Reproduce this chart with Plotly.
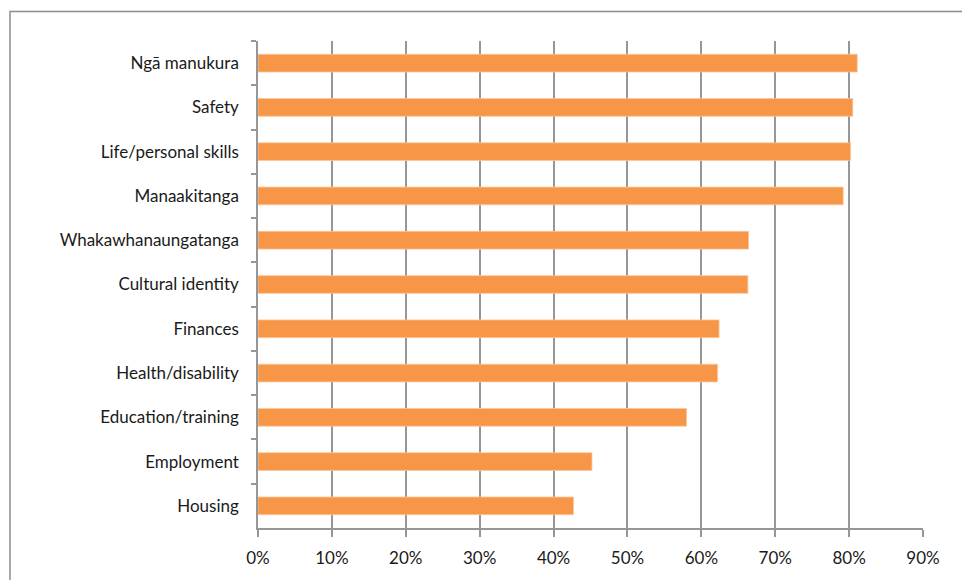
import plotly.graph_objects as go

categories = ["Ngā manukura", "Safety", "Life/personal skills", "Manaakitanga",
              "Whakawhanaungatanga", "Cultural identity", "Finances",
              "Health/disability", "Education/training", "Employment", "Housing"]
values = [0.811, 0.805, 0.802, 0.792, 0.664, 0.663, 0.624, 0.622, 0.580, 0.452, 0.427]
x_ticks = [0, 0.1, 0.2, 0.3, 0.4, 0.5, 0.6, 0.7, 0.8, 0.9]
x_tick_labels = ["0%", "10%", "20%", "30%", "40%", "50%", "60%", "70%", "80%", "90%"]

W, H = 962, 580
L, R, T, B = 258, 39, 41, 50
pw, ph = W - L - R, H - T - B

fig = go.Figure(go.Bar(
    x=values, y=categories, orientation="h",
    marker=dict(color="#F79646", line=dict(color="#FBC79E", width=0.8)),
    hoverinfo="x+y",
))

fig.update_layout(
    width=W, height=H,
    margin=dict(l=L, r=R, t=T, b=B, pad=0),
    paper_bgcolor="white", plot_bgcolor="white",
    bargap=0.6, showlegend=False,
    font=dict(family="Lato, Open Sans, sans-serif", size=17, color="#1a1a1a"),
    xaxis=dict(
        range=[0, 0.9], tickvals=x_ticks, ticktext=x_tick_labels,
        showgrid=True, gridcolor="#969696", gridwidth=1.5,
        showline=True, linecolor="#969696", linewidth=1.5,
        ticks="outside", ticklen=7, tickcolor="#969696", tickwidth=1.5,
        ticklabelstandoff=7,
        zeroline=False, fixedrange=True,
    ),
    yaxis=dict(
        categoryorder="array", categoryarray=categories, autorange="reversed",
        showgrid=False, showline=True, linecolor="#969696", linewidth=1.5,
        ticks="outside", ticklen=5, tickcolor="#969696", tickwidth=1.5,
        tickson="boundaries", ticklabelstandoff=14, fixedrange=True,
    ),
    shapes=[dict(
        type="rect", xref="paper", yref="paper",
        x0=(10 - L) / pw, x1=(W + 5 - L) / pw,
        y0=-(B + 5) / ph, y1=1 + (T - 11.5) / ph,
        line=dict(color="#8c8c8c", width=1.5), fillcolor="rgba(0,0,0,0)", layer="below",
    )],
)

fig.write_html("out.html")
